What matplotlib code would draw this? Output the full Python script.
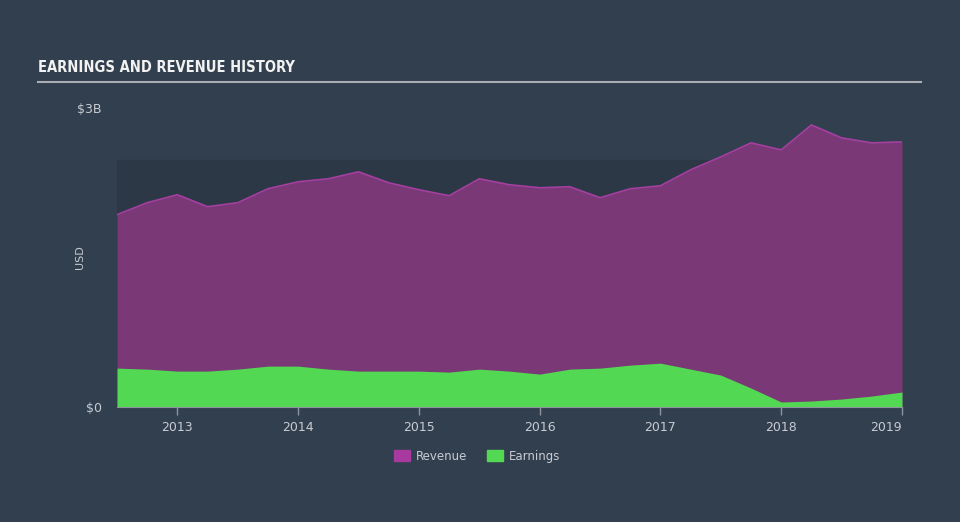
import matplotlib.pyplot as plt
from matplotlib.patches import Patch

# quarterly readings from the chart, values in $B
dates = [2012.5, 2012.75, 2013.0, 2013.25, 2013.5, 2013.75, 2014.0, 2014.25, 2014.5,
         2014.75, 2015.0, 2015.25, 2015.5, 2015.75, 2016.0, 2016.25, 2016.5, 2016.75,
         2017.0, 2017.25, 2017.5, 2017.75, 2018.0, 2018.25, 2018.5, 2018.75, 2019.0]
revenue = [1.93, 2.05, 2.13, 2.01, 2.05, 2.19, 2.26, 2.29, 2.36, 2.25, 2.18, 2.12,
           2.29, 2.23, 2.20, 2.21, 2.10, 2.19, 2.22, 2.38, 2.51, 2.65, 2.58, 2.83,
           2.70, 2.65, 2.66]
earnings = [0.39, 0.38, 0.36, 0.36, 0.38, 0.41, 0.41, 0.38, 0.36, 0.36, 0.36, 0.35,
            0.38, 0.36, 0.33, 0.38, 0.39, 0.42, 0.44, 0.38, 0.32, 0.19, 0.05, 0.06,
            0.08, 0.11, 0.15]
years = [2013, 2014, 2015, 2016, 2017, 2018, 2019]

bg = '#323f4e'
rev_fill = '#7a3876'
rev_line = '#a53fa0'
earn_col = '#52d852'
txt = '#c8ccd2'

fig = plt.figure(figsize=(9.6, 5.22), dpi=100, facecolor=bg)

# title and rule
fig.text(38 / 960, 1 - 68 / 522, 'EARNINGS AND REVENUE HISTORY', color='#f2f2f2',
         fontsize=10.5, fontweight='bold', fontstretch='condensed',
         family=['DejaVu Sans'], va='center', ha='left')
fig.add_artist(plt.Line2D([38 / 960, 921 / 960], [1 - 82 / 522, 1 - 82 / 522],
                          color='#a9aeb5', lw=1.5))

ax = fig.add_axes([117 / 960, 115 / 522, 785 / 960, 299 / 522])
ax.set_facecolor(bg)
ax.axhspan(0, 2.48, color='#2c3846', zorder=0)

ax.fill_between(dates, 0, revenue, color=rev_fill, lw=0, zorder=1)
ax.plot(dates, revenue, color=rev_line, lw=1.2, zorder=2)
ax.fill_between(dates, 0, earnings, color=earn_col, lw=0, zorder=3)

ax.set_xlim(2012.5, 2019.0)
ax.set_ylim(0, 3)
for s in ['top', 'right', 'left']:
    ax.spines[s].set_visible(False)
ax.spines['bottom'].set_color('#8e959e')
ax.spines['bottom'].set_zorder(5)

ax.set_xticks(years)
ax.set_xticklabels([str(y) for y in years], color=txt, fontsize=9)
ax.get_xticklabels()[-1].set_ha('right')
ax.tick_params(axis='x', colors='#8e959e', length=6, width=1, labelcolor=txt, pad=4)
ax.set_yticks([0, 3])
ax.set_yticklabels(['$0', '$3B'], color=txt, fontsize=9)
ax.tick_params(axis='y', length=0, pad=11)
ax.set_ylabel('USD', color=txt, fontsize=8)
ax.yaxis.set_label_coords(-0.041, 0.5)

handles = [Patch(color='#a8399f', label='Revenue'), Patch(color=earn_col, label='Earnings')]
fig.legend(handles=handles, loc='center', bbox_to_anchor=(0.497, 1 - 456 / 522), ncol=2,
           frameon=False, fontsize=8.5, labelcolor=txt, handlelength=1.4, handleheight=1.1,
           handletextpad=0.5, columnspacing=1.6)

fig.savefig('out.png', dpi=100, facecolor=bg)
